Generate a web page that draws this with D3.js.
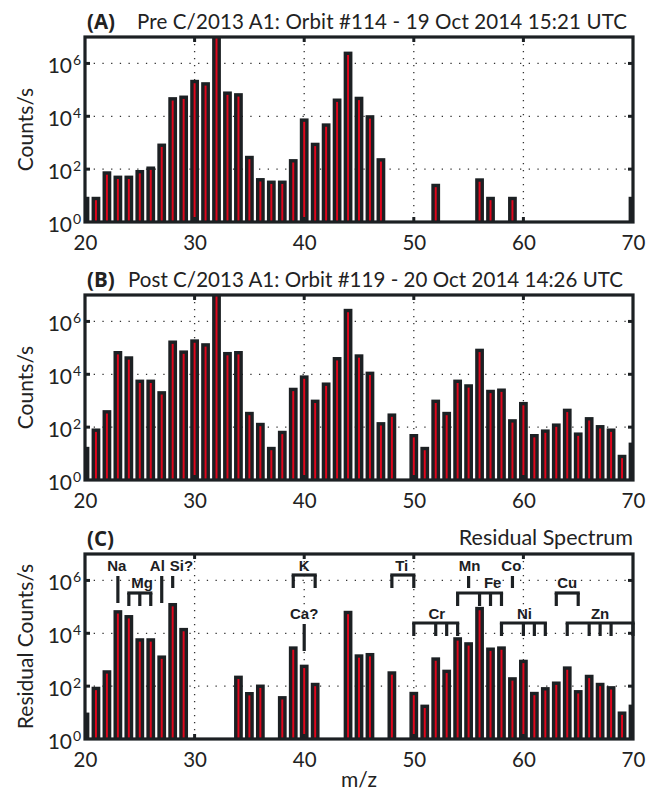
<!DOCTYPE html>
<html><head><meta charset="utf-8">
<script src="https://cdn.jsdelivr.net/npm/d3@7"></script>
<style>
html,body{margin:0;padding:0;background:#fff;}
svg{display:block;}
</style></head>
<body>
<svg id="chart" width="646" height="792" font-family="Lato, 'Open Sans', sans-serif"></svg>
<script>
// ---------------- DATA ----------------
const massNumbers = [20,21,22,23,24,25,26,27,28,29,30,31,32,33,34,35,36,37,38,39,40,41,42,43,44,45,46,47,48,49,50,51,52,53,54,55,56,57,58,59,60,61,62,63,64,65,66,67,68,69,70];

const countsPre = [9,9,83,57,57,93,126,930,53000,61000,240000,195000,2e7,87000,75000,320,46,37,37,240,8300,1000,5400,47000,2.8e6,55000,11000,260,null,null,null,null,28,null,null,null,45,9,null,9,null,null,null,null,null,null,null,null,null,null,9];

const countsPost = [18,89,440,76000,48000,6300,6300,2300,190000,80000,210000,150000,2e7,70000,76000,380,146,18,73,3100,9100,1100,4900,45000,3e6,57000,12600,155,330,null,55,18,1100,380,6300,4200,93000,2600,2900,200,900,55,82,138,500,63,240,120,89,9,26];

const countsResidual = [10,95,400,75000,49000,6500,6500,1450,140000,16000,null,null,null,null,250,60,115,null,42,3200,650,134,null,null,71000,1600,1800,null,365,null,61,20,1230,420,7100,4600,100000,2900,3200,218,1000,61,92,150,560,71,270,134,100,11,20];

const xTickValues = [20,30,40,50,60,70];
const yTickExponents = [0,2,4,6];

const panelTitles = [
  {tag:"(A)", text:"Pre C/2013 A1:  Orbit #114 - 19 Oct 2014 15:21 UTC"},
  {tag:"(B)", text:"Post C/2013 A1: Orbit #119 - 20 Oct 2014 14:26 UTC"},
  {tag:"(C)", text:""}
];
const yLabels = ["Counts/s","Counts/s","Residual Counts/s"];

// element annotations (isotope masses)
const singleMarkers = [
  {name:"Na", label:22.9, iso:23, row:"top", len:"long"},
  {name:"Al", label:26.6, iso:27, row:"top", len:"long"},
  {name:"Si?", label:28.8, iso:28, row:"top", len:"short"},
  {name:"Mn", label:55.1, iso:55, row:"top", len:"short"},
  {name:"Co", label:58.9, iso:59, row:"top", len:"short"},
  {name:"Ca?", label:40, iso:40, row:"low", len:"long"}
];
const bracketMarkers = [
  {name:"Mg", label:25.2, isos:[24,25,26], row:"mid"},
  {name:"K",  label:40,   isos:[39,41], row:"top"},
  {name:"Ti", label:48.9, isos:[48,50], row:"top"},
  {name:"Fe", label:57.2, isos:[54,56,57,58], row:"mid"},
  {name:"Cu", label:64,   isos:[63,65], row:"mid"},
  {name:"Cr", label:52.1, isos:[50,52,53,54], row:"low"},
  {name:"Ni", label:60.1, isos:[58,60,61,62], row:"low"},
  {name:"Zn", label:67,   isos:[64,66,67,68,70], row:"low"}
];

// ---------------- LAYOUT ----------------
const svg = d3.select("#chart");
const plotLeft = 85, plotRight = 633, plotH = 185;
const panelTops = [37, 295, 554];
const dark = "#1c2023", red = "#e0061c", textCol = "#222";
const seriesList = [countsPre, countsPost, countsResidual];
const titleTextStart = [137, 128];
const titleTextEnd = [627, 623];
const annFont = "'Liberation Sans', Arial, Helvetica, sans-serif";

const x = d3.scaleLinear().domain([20,70]).range([plotLeft, plotRight]);

seriesList.forEach((series, pi) => {
  const top = panelTops[pi], bottom = top + plotH;
  const y = d3.scaleLog().domain([1,1e7]).range([bottom, top]);
  const g = svg.append("g");
  const clipId = "clip" + pi;
  g.append("clipPath").attr("id", clipId).append("rect")
    .attr("x", plotLeft).attr("y", top).attr("width", plotRight-plotLeft).attr("height", plotH);

  // grid
  const grid = g.append("g").attr("clip-path", `url(#${clipId})`);
  grid.selectAll("line.v").data([30,40,50,60]).join("line")
    .attr("x1", d=>x(d)).attr("x2", d=>x(d)).attr("y1", top).attr("y2", bottom)
    .attr("stroke", "#333").attr("stroke-width", 1.3).attr("stroke-dasharray", "1.3,5.7");
  grid.selectAll("line.h").data([2,4,6]).join("line")
    .attr("x1", plotLeft).attr("x2", plotRight).attr("y1", d=>y(Math.pow(10,d))).attr("y2", d=>y(Math.pow(10,d)))
    .attr("stroke", "#333").attr("stroke-width", 1.3).attr("stroke-dasharray", "1.3,7.4");

  // bars
  const bw = x(20.8) - x(20), sw = 3.4;
  const data = massNumbers.map((m,i)=>({m, v:series[i]})).filter(d=>d.v!=null);
  g.append("g").attr("clip-path", `url(#${clipId})`)
    .selectAll("rect").data(data).join("rect")
    .attr("x", d=>x(d.m) - bw/2 + sw/2)
    .attr("width", bw - sw)
    .attr("y", d=>y(d.v) + sw/2)
    .attr("height", d=>Math.max(0, y(1) - y(d.v) + 4))
    .attr("fill", red).attr("stroke", dark).attr("stroke-width", sw);

  // box
  g.append("rect").attr("x", plotLeft).attr("y", top).attr("width", plotRight-plotLeft).attr("height", plotH)
    .attr("fill","none").attr("stroke", dark).attr("stroke-width", 3.2);
  // inner ticks
  g.selectAll("line.tt").data([30,40,50,60]).join("line")
    .attr("x1", d=>x(d)).attr("x2", d=>x(d)).attr("y1", top).attr("y2", top+5)
    .attr("stroke", dark).attr("stroke-width", 3);
  g.selectAll("line.tb").data([30,40,50,60]).join("line")
    .attr("x1", d=>x(d)).attr("x2", d=>x(d)).attr("y1", bottom).attr("y2", bottom-5)
    .attr("stroke", dark).attr("stroke-width", 3);
  g.selectAll("line.tr").data([2,4,6]).join("line")
    .attr("x1", plotRight).attr("x2", plotRight-5).attr("y1", d=>y(Math.pow(10,d))).attr("y2", d=>y(Math.pow(10,d)))
    .attr("stroke", dark).attr("stroke-width", 3);
  g.selectAll("line.tl").data([2,4,6]).join("line")
    .attr("x1", plotLeft).attr("x2", plotLeft+5).attr("y1", d=>y(Math.pow(10,d))).attr("y2", d=>y(Math.pow(10,d)))
    .attr("stroke", dark).attr("stroke-width", 3);

  // x axis labels
  const xa = g.append("g").attr("transform", `translate(0,${bottom})`)
    .call(d3.axisBottom(x).tickValues(xTickValues).tickSize(0).tickPadding(13).tickFormat(d3.format("d")));
  xa.select(".domain").remove();
  xa.attr("font-family", null).attr("font-size", null);
  xa.selectAll("text").attr("font-size", 20.5).attr("fill", textCol);

  // y labels with superscripts
  const ya = g.append("g");
  yTickExponents.forEach(e => {
    const ty = y(Math.pow(10,e));
    ya.append("text").attr("x", 72).attr("y", ty + 9.5).attr("text-anchor","end")
      .attr("font-size", 21).attr("fill", textCol).text("10");
    ya.append("text").attr("x", 73).attr("y", ty + 1.5).attr("font-size", 14).attr("fill", textCol).text(String(e));
  });

  // y axis title
  svg.append("text").attr("transform", `translate(33,${top+plotH/2}) rotate(-90)`)
    .attr("text-anchor","middle").attr("font-size", 21).attr("fill", textCol).text(yLabels[pi]);

  // panel title
  const tt = svg.append("text").attr("x", 87).attr("y", top - 8.5).attr("font-size", 20.5).attr("fill", textCol);
  tt.append("tspan").attr("font-weight","bold").attr("font-family","'Open Sans', sans-serif").text(panelTitles[pi].tag);
  if (panelTitles[pi].text) {
    tt.append("tspan").attr("x", titleTextStart[pi])
      .attr("textLength", titleTextEnd[pi] - titleTextStart[pi]).attr("lengthAdjust","spacing")
      .text(panelTitles[pi].text);
  }

  if (pi === 2) {
    svg.append("text").attr("x", plotRight).attr("y", top - 9).attr("text-anchor","end")
      .attr("font-size", 21.5).attr("fill", textCol).text("Residual Spectrum");

    // annotations
    const ann = svg.append("g").attr("font-family", annFont).attr("font-weight", "bold").attr("font-size", 15);
    const textRow = {top: top+16.5, mid: top+34, low: top+64.5};
    const lineRow = {top: top+22, mid: top+40, low: top+70};
    const longLen = {long: 27, short: 12};
    singleMarkers.forEach(s => {
      ann.append("text").attr("x", x(s.label)).attr("y", textRow[s.row]).attr("text-anchor","middle")
        .attr("fill", dark).text(s.name);
      ann.append("line").attr("x1", x(s.iso)).attr("x2", x(s.iso))
        .attr("y1", lineRow[s.row]).attr("y2", lineRow[s.row] + longLen[s.len])
        .attr("stroke", dark).attr("stroke-width", 3.2);
    });
    const bracketY = {top: top+21, mid: top+39, low: top+69};
    bracketMarkers.forEach(b => {
      ann.append("text").attr("x", x(b.label)).attr("y", textRow[b.row]).attr("text-anchor","middle")
        .attr("fill", dark).text(b.name);
      const by = bracketY[b.row];
      const x0 = x(d3.min(b.isos)), x1 = x(d3.max(b.isos));
      ann.append("line").attr("x1", x0-1.6).attr("x2", x1+1.6).attr("y1", by).attr("y2", by)
        .attr("stroke", dark).attr("stroke-width", 3.2);
      b.isos.forEach(m => {
        ann.append("line").attr("x1", x(m)).attr("x2", x(m)).attr("y1", by).attr("y2", by+13)
          .attr("stroke", dark).attr("stroke-width", 3.2);
      });
    });

    svg.append("text").attr("x", 359).attr("y", 787).attr("text-anchor","middle")
      .attr("font-size", 21).attr("fill", textCol).text("m/z");
  }
});
</script>
</body></html>
